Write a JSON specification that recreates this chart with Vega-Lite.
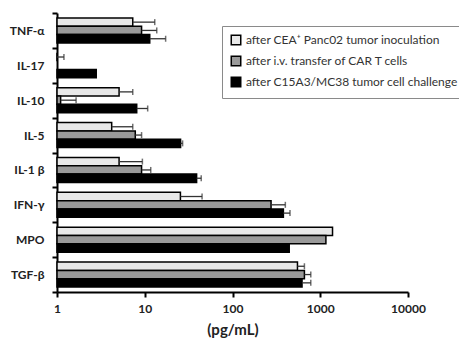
{
  "$schema": "https://vega.github.io/schema/vega-lite/v6.json",
  "width": 351,
  "height": 279,
  "autosize": {"type": "none"},
  "padding": {"left": 57, "top": 13, "right": 51, "bottom": 52},
  "background": "white",
  "config": {"view": {"stroke": null}, "font": "Lato"},
  "data": {
    "values": [
      {"cytokine": "TNF-α", "series": "after CEA⁺ Panc02 tumor inoculation", "value": 7.3, "hi": 13},
      {"cytokine": "TNF-α", "series": "after i.v. transfer of CAR T cells", "value": 9.2, "hi": 13.7},
      {"cytokine": "TNF-α", "series": "after C15A3/MC38 tumor cell challenge", "value": 11.4, "hi": 17.3},
      {"cytokine": "IL-17", "series": "after CEA⁺ Panc02 tumor inoculation", "value": 1, "hi": 1.2},
      {"cytokine": "IL-17", "series": "after C15A3/MC38 tumor cell challenge", "value": 2.8, "hi": null},
      {"cytokine": "IL-10", "series": "after CEA⁺ Panc02 tumor inoculation", "value": 5.1, "hi": 7.3},
      {"cytokine": "IL-10", "series": "after i.v. transfer of CAR T cells", "value": 1.1, "hi": 1.65},
      {"cytokine": "IL-10", "series": "after C15A3/MC38 tumor cell challenge", "value": 8.1, "hi": 10.8},
      {"cytokine": "IL-5", "series": "after CEA⁺ Panc02 tumor inoculation", "value": 4.2, "hi": 7.3},
      {"cytokine": "IL-5", "series": "after i.v. transfer of CAR T cells", "value": 7.8, "hi": 9.2},
      {"cytokine": "IL-5", "series": "after C15A3/MC38 tumor cell challenge", "value": 25.6, "hi": 27},
      {"cytokine": "IL-1 β", "series": "after CEA⁺ Panc02 tumor inoculation", "value": 5.1, "hi": 9.4},
      {"cytokine": "IL-1 β", "series": "after i.v. transfer of CAR T cells", "value": 9.2, "hi": 11.7},
      {"cytokine": "IL-1 β", "series": "after C15A3/MC38 tumor cell challenge", "value": 39, "hi": 44},
      {"cytokine": "IFN-γ", "series": "after CEA⁺ Panc02 tumor inoculation", "value": 25.5, "hi": 45},
      {"cytokine": "IFN-γ", "series": "after i.v. transfer of CAR T cells", "value": 275, "hi": 400},
      {"cytokine": "IFN-γ", "series": "after C15A3/MC38 tumor cell challenge", "value": 380, "hi": 452},
      {"cytokine": "MPO", "series": "after CEA⁺ Panc02 tumor inoculation", "value": 1380, "hi": null},
      {"cytokine": "MPO", "series": "after i.v. transfer of CAR T cells", "value": 1160, "hi": null},
      {"cytokine": "MPO", "series": "after C15A3/MC38 tumor cell challenge", "value": 443, "hi": null},
      {"cytokine": "TGF-β", "series": "after CEA⁺ Panc02 tumor inoculation", "value": 550, "hi": 660},
      {"cytokine": "TGF-β", "series": "after i.v. transfer of CAR T cells", "value": 660, "hi": 780},
      {"cytokine": "TGF-β", "series": "after C15A3/MC38 tumor cell challenge", "value": 620, "hi": 780}
    ]
  },
  "encoding": {
    "y": {
      "field": "cytokine", "type": "nominal",
      "sort": ["TNF-α", "IL-17", "IL-10", "IL-5", "IL-1 β", "IFN-γ", "MPO", "TGF-β"],
      "scale": {"domain": ["TNF-α", "IL-17", "IL-10", "IL-5", "IL-1 β", "IFN-γ", "MPO", "TGF-β"], "paddingInner": 0, "paddingOuter": 0},
      "axis": {
        "title": null, "domainColor": "black", "domainWidth": 2, "tickColor": "black", "tickWidth": 2, "tickSize": 5,
        "tickBand": "extent", "labelFont": "Lato", "labelFontWeight": "bold", "labelFontSize": 12, "labelColor": "#222", "labelPadding": 8
      }
    },
    "yOffset": {
      "field": "series", "type": "nominal",
      "scale": {"domain": ["after CEA⁺ Panc02 tumor inoculation", "after i.v. transfer of CAR T cells", "after C15A3/MC38 tumor cell challenge"], "paddingInner": 0, "paddingOuter": 0.6}
    }
  },
  "layer": [
    {
      "mark": {"type": "bar", "stroke": "black", "strokeWidth": 1.5},
      "encoding": {
        "x": {
          "field": "value", "type": "quantitative",
          "scale": {"type": "log", "domain": [1, 10000]},
          "title": "(pg/mL)",
          "axis": {
            "values": [1, 10, 100, 1000, 10000], "format": "d", "grid": false,
            "domainColor": "black", "domainWidth": 2, "tickColor": "black", "tickWidth": 2, "tickSize": 5,
            "labelFont": "Lato", "labelFontWeight": "bold", "labelFontSize": 12, "labelColor": "#222", "labelPadding": 6, "labelFlush": false,
            "titleFont": "Lato", "titleFontWeight": "bold", "titleFontSize": 15, "titleColor": "#222", "titlePadding": 8
          }
        },
        "x2": {"datum": 1},
        "fill": {
          "field": "series", "type": "nominal",
          "scale": {"domain": ["after CEA⁺ Panc02 tumor inoculation", "after i.v. transfer of CAR T cells", "after C15A3/MC38 tumor cell challenge"], "range": ["#e8e8e8", "#9a9a9a", "#000000"]},
          "legend": {
            "title": null, "orient": "none", "legendX": 165, "legendY": 13, "direction": "vertical",
            "fillColor": "white", "strokeColor": "#8a8a8a", "padding": 8,
            "symbolType": "square", "symbolSize": 90, "symbolStrokeColor": "black", "symbolStrokeWidth": 1.5,
            "labelFont": "Lato", "labelFontSize": 12, "labelColor": "#333", "labelLimit": 320, "rowPadding": 5, "labelOffset": 4
          }
        }
      }
    },
    {
      "transform": [{"filter": "datum.hi != null"}],
      "mark": {"type": "rule", "stroke": "#333", "strokeWidth": 1.3},
      "encoding": {
        "x": {"field": "value", "type": "quantitative"},
        "x2": {"field": "hi"}
      }
    },
    {
      "transform": [{"filter": "datum.hi != null"}],
      "mark": {"type": "tick", "color": "#333", "thickness": 1.5, "size": 6},
      "encoding": {
        "x": {"field": "hi", "type": "quantitative"}
      }
    }
  ]
}
